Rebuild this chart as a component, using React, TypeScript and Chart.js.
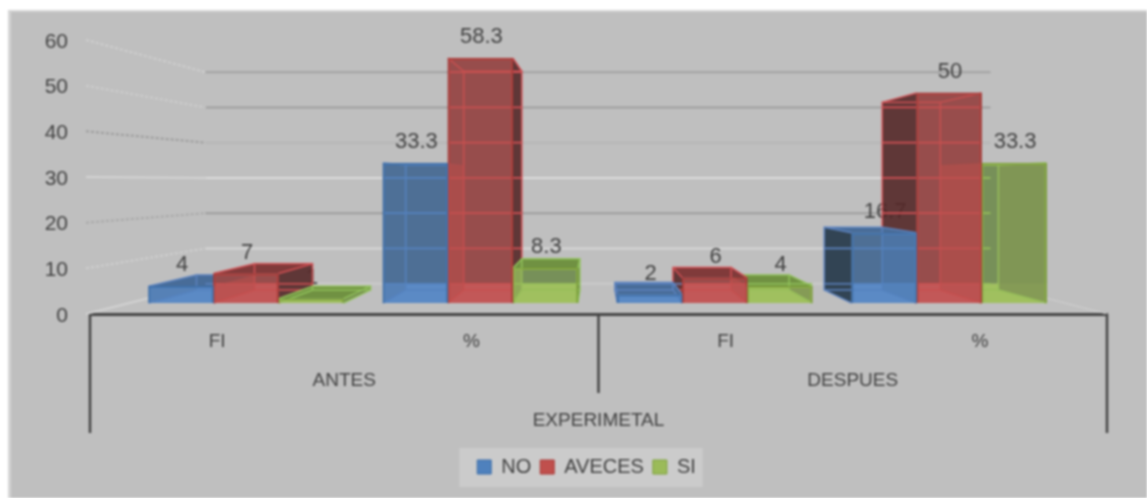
import React, { useEffect, useRef } from "react";
import { Chart, registerables } from "chart.js";

Chart.register(...registerables);

const categories = ["FI", "%", "FI", "%"];
const groupLabels = ["ANTES", "DESPUES"];
const outerLabel = "EXPERIMETAL";
const seriesNames = ["NO", "AVECES", "SI"];
const noValues = [4, 33.3, 2, 16.7];
const avecesValues = [7, 58.3, 6, 50];
const siValues = [1, 8.3, 4, 33.3];

const FONT = "'Liberation Sans', Arial, sans-serif";
const INK = "#424242";
const BG = "#bfbfbf";

// perspective of the fake 3D box
const VX = 596;
const VY = 181;
const WALL_S = 0.772;
const BAR_S = 0.893;
const LEGEND_CENTER = 586.5;
const wallColor: Record<number, string> = { 0: "#cbcbcb", 10: "#d8d8d8", 20: "#9c9c9c", 30: "#dcdcdc", 40: "#b6b6b6", 50: "#9f9f9f", 60: "#a2a2a2" };
const sideColor: Record<number, string> = { 0: "#d2d2d2", 10: "#cfcfcf", 20: "#a9a9a9", 30: "#d4d4d4", 40: "#9d9d9d", 50: "#cdcdcd", 60: "#cfcfcf" };

const palette = [
  { fill: "rgba(79,129,189,0.55)", swatch: "#4f81bd", line: "#3f6fa8", grid: "rgb(93,131,191)", dark: "rgba(68,80,93,0.92)", bright: "rgb(106,149,207)", outer: "rgba(38,58,75,0.92)", inner: "rgba(80,95,112,0.35)", top: "rgb(72,108,152)", tint: "rgba(79,129,189,0.4)" },
  { fill: "rgba(192,80,77,0.55)", swatch: "#c0504d", line: "#a93a38", grid: "rgb(209,80,84)", dark: "rgba(94,64,66,0.92)", bright: "rgb(198,98,102)", outer: "rgba(84,40,40,0.9)", inner: "rgba(110,75,75,0.3)", top: "rgb(128,58,58)", tint: "rgba(192,80,77,0.5)" },
  { fill: "rgba(155,187,89,0.55)", swatch: "#9bbb59", line: "#7ea23c", grid: "rgb(145,194,91)", dark: "rgba(67,82,80,0.92)", bright: "rgb(167,198,102)", outer: "rgba(110,135,70,0.92)", inner: "rgba(100,106,80,0.9)", top: "rgb(112,145,66)", tint: "rgba(155,187,89,0.4)" },
];

const project = (x: number, y: number, s: number) => ({ x: VX + (x - VX) * s, y: VY + (y - VY) * s });

const poly = (ctx: CanvasRenderingContext2D, pts: { x: number; y: number }[], fill: string) => {
  ctx.beginPath();
  pts.forEach((p, i) => (i ? ctx.lineTo(p.x, p.y) : ctx.moveTo(p.x, p.y)));
  ctx.closePath();
  ctx.fillStyle = fill;
  ctx.fill();
};

const collectBars = (chart: any) => {
  const out: any[] = [];
  chart.data.datasets.forEach((d: any, di: number) => {
    chart.getDatasetMeta(di).data.forEach((el: any, i: number) => {
      const p = el.getProps(["x", "y", "base", "width"], true);
      out.push({
        di,
        i,
        value: d.data[i].y,
        cx: p.x,
        x1: p.x - p.width / 2,
        x2: p.x + p.width / 2,
        top: p.y,
        base: p.base,
      });
    });
  });
  return out;
};

const outerFace = (b: any) => {
  const tl = project(b.x1, b.top, BAR_S);
  const tr = project(b.x2, b.top, BAR_S);
  const bl = project(b.x1, b.base, BAR_S);
  const br = project(b.x2, b.base, BAR_S);
  return b.x2 < VX
    ? [{ x: b.x2, y: b.top }, tr, br, { x: b.x2, y: b.base }]
    : [{ x: b.x1, y: b.top }, tl, bl, { x: b.x1, y: b.base }];
};

const scene = {
  id: "scene",
  afterLayout(chart: any) {
    const l = chart.legend;
    l.right = 2 * LEGEND_CENTER - l.left;
    l.adjustHitBoxes();
  },
  beforeDraw(chart: any) {
    const { ctx, width, height } = chart;
    ctx.save();
    ctx.fillStyle = "#ffffff";
    ctx.fillRect(0, 0, width, height);
    ctx.fillStyle = "#d4d4d4";
    ctx.fillRect(8, 10, width - 8, height - 10);
    ctx.fillStyle = BG;
    ctx.fillRect(11, 12, width - 11, height - 12);
    const hits = chart.legend.legendHitBoxes;
    const l = chart.legend;
    const last = hits[hits.length - 1];
    ctx.fillStyle = "#cbcbcb";
    ctx.fillRect(hits[0].left - 18, l.top, last.left + last.width + 7 - (hits[0].left - 18), l.height);
    ctx.restore();
  },
  beforeDatasetsDraw(chart: any) {
    const { ctx, scales } = chart;
    const y = scales.y;
    const x = scales.x;
    const wallL = project(x.left, 0, WALL_S).x;
    const wallR = project(x.right, 0, WALL_S).x;
    ctx.save();
    // walls
    y.ticks.forEach((t: any, i: number) => {
      const fy = y.getPixelForTick(i);
      const a = project(x.left, fy, WALL_S);
      const b = project(x.right, fy, WALL_S);
      ctx.strokeStyle = wallColor[t.value];
      ctx.lineWidth = 2;
      ctx.setLineDash([]);
      ctx.beginPath();
      ctx.moveTo(a.x, a.y);
      ctx.lineTo(b.x, b.y);
      ctx.stroke();
      ctx.strokeStyle = sideColor[t.value];
      if (t.value !== 0 && t.value !== 30) ctx.setLineDash([3, 2]);
      ctx.beginPath();
      ctx.moveTo(x.left - 4, fy);
      ctx.lineTo(a.x, a.y);
      ctx.stroke();
      if (t.value === 0) {
        ctx.setLineDash([]);
        ctx.lineWidth = 1;
        ctx.beginPath();
        ctx.moveTo(x.right, fy);
        ctx.lineTo(b.x, b.y);
        ctx.stroke();
      }
    });
    ctx.setLineDash([]);

    const bars = collectBars(chart);

    // value labels sit behind the boxes
    ctx.fillStyle = INK;
    ctx.font = `22px ${FONT}`;
    ctx.textAlign = "center";
    ctx.textBaseline = "middle";
    bars.forEach((b) => ctx.fillText(String(b.value), b.cx + 1, b.top - 21));

    // inside of each box, far ones first
    const floorY = project(0, y.bottom, WALL_S).y;
    [...bars]
      .sort((a, b) => Math.abs(b.cx - VX) - Math.abs(a.cx - VX))
      .forEach((b) => {
        const c = palette[b.di];
        const tl = project(b.x1, b.top, BAR_S);
        const tr = project(b.x2, b.top, BAR_S);
        const bl = project(b.x1, b.base, BAR_S);
        const br = project(b.x2, b.base, BAR_S);
        const w = b.x2 - b.x1;
        if (b.top < floorY) {
          ctx.fillStyle = c.dark;
          ctx.fillRect(b.x1, b.top, w, Math.min(floorY, b.base) - b.top);
        }
        ctx.fillStyle = c.bright;
        ctx.fillRect(b.x1, Math.max(b.top, floorY), w, b.base - Math.max(b.top, floorY));
        const innerPts =
          b.x2 < VX
            ? [{ x: b.x1, y: b.top }, tl, bl, { x: b.x1, y: b.base }]
            : [{ x: b.x2, y: b.top }, tr, br, { x: b.x2, y: b.base }];
        poly(ctx, innerPts, c.inner);
        poly(ctx, outerFace(b), c.outer);
        if (tl.y < b.top) {
          poly(ctx, [{ x: b.x1, y: b.top }, { x: b.x2, y: b.top }, tr, tl], c.top);
        }
        // wall lines seen through the glass
        ctx.strokeStyle = c.grid;
        ctx.lineWidth = 1.6;
        y.ticks.forEach((_: any, i: number) => {
          const gy = project(0, y.getPixelForTick(i), WALL_S).y;
          if (gy <= tl.y || gy >= bl.y) return;
          const from = Math.max(Math.min(b.x1, tl.x), wallL);
          const to = Math.min(Math.max(b.x2, tr.x), wallR);
          if (to <= from) return;
          ctx.beginPath();
          ctx.moveTo(from, gy);
          ctx.lineTo(to, gy);
          ctx.stroke();
        });
        // box edges
        ctx.strokeStyle = c.grid;
        ctx.lineWidth = 1.5;
        ctx.strokeRect(tl.x, tl.y, tr.x - tl.x, bl.y - tl.y);
        [[b.x1, b.top, tl], [b.x2, b.top, tr], [b.x1, b.base, bl], [b.x2, b.base, br]].forEach(([px, py, q]: any) => {
          ctx.beginPath();
          ctx.moveTo(px, py);
          ctx.lineTo(q.x, q.y);
          ctx.stroke();
        });
      });
    ctx.restore();
  },
  afterDatasetsDraw(chart: any) {
    const { ctx } = chart;
    const bars = collectBars(chart);
    const at = (di: number, i: number) => bars.find((b) => b.di === di && b.i === i);
    ctx.save();
    // a side face seen through the glass of the neighbouring box
    bars.forEach((b) => {
      const other = at(b.x2 < VX ? b.di + 1 : b.di - 1, b.i);
      if (!other) return;
      ctx.save();
      ctx.beginPath();
      ctx.rect(other.x1, other.top, other.x2 - other.x1, other.base - other.top);
      ctx.clip();
      poly(ctx, outerFace(b), palette[other.di].tint);
      ctx.restore();
    });
    ctx.restore();
  },
  afterDraw(chart: any) {
    const { ctx, scales } = chart;
    const x = scales.x;
    const top = scales.y.bottom;
    const mid = (x.getPixelForTick(1) + x.getPixelForTick(2)) / 2;
    const level1 = top + 79;
    const level2 = top + 119;
    ctx.save();
    ctx.strokeStyle = "#454545";
    ctx.lineWidth = 2.5;
    [[x.left, level2], [mid, level1], [x.right, level2]].forEach(([px, py]) => {
      ctx.beginPath();
      ctx.moveTo(px, top);
      ctx.lineTo(px, py);
      ctx.stroke();
    });
    ctx.fillStyle = INK;
    ctx.font = `19px ${FONT}`;
    ctx.textAlign = "center";
    ctx.textBaseline = "middle";
    ctx.fillText(groupLabels[0], (x.left + mid) / 2, top + 67);
    ctx.fillText(groupLabels[1], (mid + x.right) / 2, top + 67);
    ctx.fillText(outerLabel, mid, top + 107);
    ctx.restore();
  },
};

export default function App() {
  const ref = useRef<HTMLCanvasElement>(null);
  useEffect(() => {
    const series = [noValues, avecesValues, siValues];
    const chart = new Chart(ref.current as HTMLCanvasElement, {
      type: "bar",
      data: {
        labels: categories,
        datasets: series.map((vals, i) => ({
          label: seriesNames[i],
          data: vals.map((v, k) => ({ x: k, y: v })),
          xAxisID: "x2",
          yAxisID: "y2",
          backgroundColor: palette[i].fill,
          borderColor: palette[i].line,
          borderWidth: 1.5,
          barThickness: 65,
        })),
      } as any,
      options: {
        responsive: false,
        animation: false,
        layout: { padding: { top: 40, right: 40, bottom: 11, left: 0 } },
        scales: {
          x: {
            type: "category",
            offset: true,
            grid: { display: false, drawTicks: false },
            border: { color: "#454545", width: 3 },
            ticks: { color: INK, padding: 16, font: { family: FONT, size: 19 }, maxRotation: 0 },
            afterFit(s: any) {
              s.height = 134;
            },
          },
          y: {
            min: 0,
            max: 60,
            position: "left",
            grid: { display: false, drawTicks: false },
            border: { display: false },
            ticks: { stepSize: 10, color: INK, padding: 22, labelOffset: 2, font: { family: FONT, size: 21 } },
            afterFit(s: any) {
              s.width = 90;
            },
          },
          x2: { type: "linear", display: false, offset: false, min: -0.666, max: 3.674 },
          y2: { type: "linear", display: false, min: -2.62, max: 62.6 },
        },
        plugins: {
          tooltip: { enabled: false },
          legend: {
            position: "bottom",
            labels: {
              boxWidth: 14,
              boxHeight: 14,
              padding: 9,
              font: { family: FONT, size: 20 },
              color: INK,
              generateLabels: (c: any) =>
                c.data.datasets.map((d: any, i: number) => ({
                  text: d.label,
                  fillStyle: palette[i].swatch,
                  strokeStyle: palette[i].line,
                  lineWidth: 1,
                  fontColor: INK,
                  datasetIndex: i,
                })),
            },
          },
        },
      } as any,
      plugins: [scene],
    });
    return () => chart.destroy();
  }, []);
  return (
    <canvas
      ref={ref}
      width={1147}
      height={498}
      style={{ position: "fixed", left: 0, top: 0, display: "block", filter: "blur(0.8px)" }}
    />
  );
}
